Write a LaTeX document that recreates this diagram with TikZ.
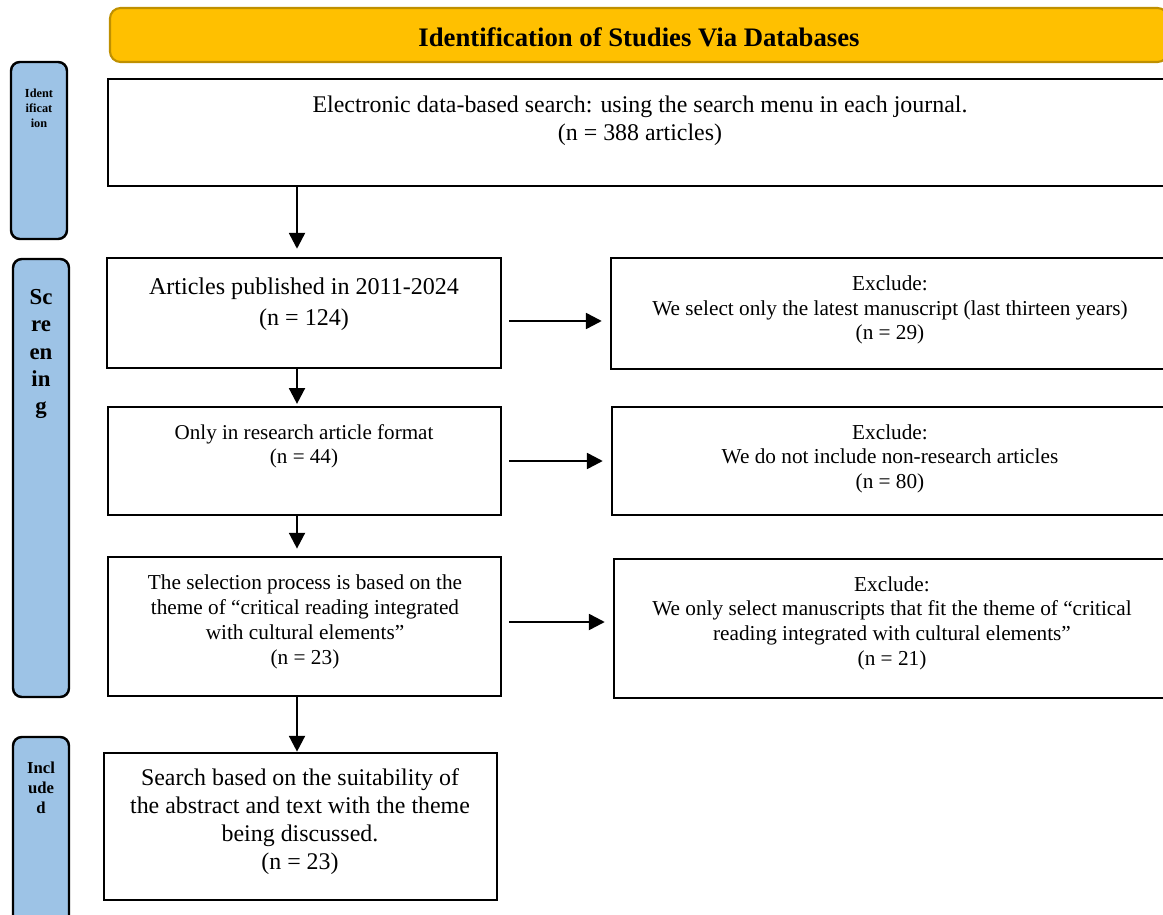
\documentclass[tikz,border=0pt]{standalone}
\usepackage{fontspec}
\setmainfont{Liberation Serif}
\usepackage{xcolor}
\usetikzlibrary{arrows.meta,calc,fit,positioning}

\definecolor{bannergold}{HTML}{FFC000}
\definecolor{bannerrim}{HTML}{BF9000}
\definecolor{phaseblue}{HTML}{9DC3E6}

\begin{document}
\begin{tikzpicture}[x=0.02cm,y=-0.02cm,
		box/.style={draw,line width=1.5pt,inner sep=0pt},
		phase/.style={draw,line width=1.4pt,rounded corners=5pt,fill=phaseblue,inner sep=0pt},
		txt/.style={align=center,inner sep=0pt},
		arr/.style={line width=1.4pt,-{Triangle[length=9pt,width=9pt]}}]
		\useasboundingbox (0,0) rectangle (1163,915);
		
		% banner and phase bars
		\node[box,line width=1.2pt,draw=bannerrim,fill=bannergold,rounded corners=6pt,fit={(110,8) (1168,62)}] (banner) {};
		\node[txt,font=\fontsize{15.2}{18}\selectfont\bfseries] (bannertxt) at (639,37) {Identification of Studies Via Databases};
		
		\node[phase,fit={(11,62) (67,239)}] (idbar) {};
		\node[phase,fit={(13,259) (69,697)}] (scrbar) {};
		\node[phase,fit={(13,737) (69,930)}] (incbar) {};
		\node[txt,font=\fontsize{7}{8.6}\selectfont\bfseries] (idtxt) at (39,108.5) {Ident\\ificat\\ion};
		\node[txt,font=\fontsize{13}{15.6}\selectfont\bfseries] (scrtxt) at (41,354) {Sc\\re\\en\\in\\g};
		\node[txt,font=\fontsize{9.5}{11.4}\selectfont\bfseries] (inctxt) at (41,787.5) {Incl\\ude\\d};
		
		% main column
		\node[box,fit={(108,79) (1172,186)}] (search) {};
		\node[box,fit={(107,258) (501,368)}] (art) {};
		\node[box,fit={(108,407) (501,515)}] (fmt) {};
		\node[box,fit={(108,557) (501,696)}] (sel) {};
		\node[box,fit={(104,753) (497,900)}] (final) {};
		
		\node[txt,font=\fontsize{13.6}{15.9}\selectfont] (searchtxt) at (640,121) {Electronic data-based search: using the search menu in each journal.\\(n = 388 articles)};
		\node[txt,font=\fontsize{13.7}{17.6}\selectfont] (arttxt) at (304,304) {Articles published in 2011-2024\\(n = 124)};
		\node[txt,font=\fontsize{12}{13.8}\selectfont] (fmttxt) at (304,446) {Only in research article format\\(n = 44)};
		\node[txt,font=\fontsize{12.1}{14.2}\selectfont] (seltxt) at (305,621.5) {The selection process is based on the\\theme of “critical reading integrated\\with cultural elements”\\(n = 23)};
		\node[txt,font=\fontsize{13.6}{15.9}\selectfont] (finaltxt) at (300,822) {Search based on the suitability of\\the abstract and text with the theme\\being discussed.\\(n = 23)};
		
		% exclusions
		\node[box,fit={(611,258) (1172,369)}] (ex1) {};
		\node[box,fit={(612,407) (1172,515)}] (ex2) {};
		\node[box,fit={(614,559) (1172,698)}] (ex3) {};
		
		\node[txt,font=\fontsize{12.1}{13.8}\selectfont] (ex1txt) at (890,310) {Exclude:\\We select only the latest manuscript (last thirteen years)\\(n = 29)};
		\node[txt,font=\fontsize{12.1}{14}\selectfont] (ex2txt) at (890,458.5) {Exclude:\\We do not include non-research articles\\(n = 80)};
		\node[txt,font=\fontsize{12.1}{14}\selectfont] (ex3txt) at (892,623) {Exclude:\\We only select manuscripts that fit the theme of “critical\\reading integrated with cultural elements”\\(n = 21)};
		
		% arrows
		\coordinate (col) at (297,0);
		\draw[arr,shorten >=4.5pt] (search.south -| col) -- (art.north -| col);
		\draw[arr,shorten >=1pt] (art.south -| col) -- (fmt.north -| col);
		\draw[arr,shorten >=4pt] (fmt.south -| col) -- (sel.north -| col);
		\draw[arr] (sel.south -| col) -- (final.north -| col);
		
		\draw[arr,shorten <=4pt,shorten >=4.5pt] (art.east |- 0,321) -- (ex1.west |- 0,321);
		\draw[arr,shorten <=4pt,shorten >=4.5pt] (fmt.east |- 0,461) -- (ex2.west |- 0,461);
		\draw[arr,shorten <=4pt,shorten >=4.5pt] (sel.east |- 0,622) -- (ex3.west |- 0,622);
\end{tikzpicture}
\end{document}
